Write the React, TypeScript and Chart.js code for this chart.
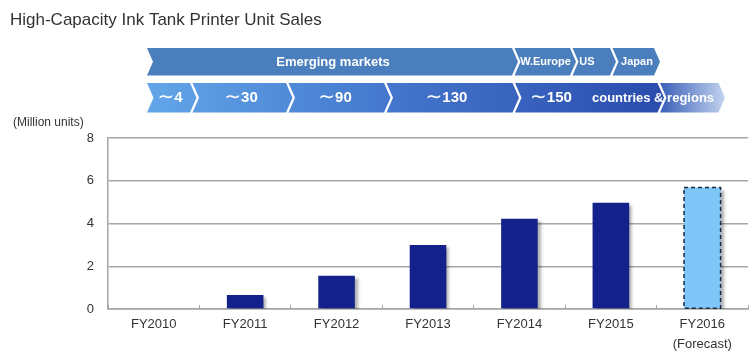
import React, { useEffect, useRef } from "react";
import { Chart, registerables } from "chart.js";

Chart.register(...registerables);

// ---- data ----
const titleText = "High-Capacity Ink Tank Printer Unit Sales";
const unitLabel = "(Million units)";
const categories = ["FY2010", "FY2011", "FY2012", "FY2013", "FY2014", "FY2015", "FY2016"];
const forecastNote = "(Forecast)";
const unitSales = [0, 0.65, 1.55, 3.0, 4.22, 4.97, 5.68];
const isForecast = [false, false, false, false, false, false, true];
const yTickValues = [0, 2, 4, 6, 8];
const marketStages = ["Emerging markets", "W.Europe", "US", "Japan"];
const countryCounts = ["∼4", "∼30", "∼90", "∼130", "∼150"];
const countrySuffix = "countries & regions";

// ---- layout / style (decorations) ----
const FONT = "'Liberation Sans', Arial, sans-serif";
const row1 = { top: 48, bottom: 75.5, start: 147, d: 6, gap: 2.5, tips: [518, 576, 616, 660] };
const row1Text = [
  { x: 333, size: 13 },
  { x: 545.5, size: 11 },
  { x: 587, size: 11 },
  { x: 637, size: 11 },
];
const row2 = { top: 83, bottom: 112.5, start: 147, d: 6.5, gap: 2.5, tips: [196.5, 292.5, 390.5, 519, 664, 725] };
const row2TextX = [170, 241, 335, 446.5, 551];
const suffixX = 592;

function chevron(ctx: CanvasRenderingContext2D, xl: number, xr: number, top: number, bot: number, d: number) {
  const mid = (top + bot) / 2;
  ctx.beginPath();
  ctx.moveTo(xl, top);
  ctx.lineTo(xr - d, top);
  ctx.lineTo(xr, mid);
  ctx.lineTo(xr - d, bot);
  ctx.lineTo(xl, bot);
  ctx.lineTo(xl + d, mid);
  ctx.closePath();
}

function segLeft(row: any, i: number) {
  return i === 0 ? row.start : row.tips[i - 1] - row.d + row.gap;
}

const headerPlugin = {
  id: "headerPlugin",
  afterDraw(chart: any) {
    const ctx: CanvasRenderingContext2D = chart.ctx;
    ctx.save();
    // unit label
    ctx.font = `12px ${FONT}`;
    ctx.fillStyle = "#333333";
    ctx.textBaseline = "middle";
    ctx.textAlign = "left";
    ctx.fillText(unitLabel, 13, 123);

    // row 1
    for (let i = 0; i < row1.tips.length; i++) {
      chevron(ctx, segLeft(row1, i), row1.tips[i], row1.top, row1.bottom, row1.d);
      ctx.fillStyle = "#4a7ebd";
      ctx.fill();
    }
    ctx.fillStyle = "#ffffff";
    ctx.textAlign = "center";
    const m1 = (row1.top + row1.bottom) / 2 + 0.5;
    marketStages.forEach((t, i) => {
      ctx.font = `bold ${row1Text[i].size}px ${FONT}`;
      ctx.fillText(t, row1Text[i].x, m1);
    });

    // row 2
    const g = ctx.createLinearGradient(row2.start, 0, row2.tips[4], 0);
    g.addColorStop(0, "#62a6e8");
    g.addColorStop(0.5, "#4274cb");
    g.addColorStop(1, "#2a4cad");
    for (let i = 0; i < row2.tips.length; i++) {
      const xl = segLeft(row2, i);
      chevron(ctx, xl, row2.tips[i], row2.top, row2.bottom, row2.d);
      if (i === row2.tips.length - 1) {
        const g2 = ctx.createLinearGradient(xl, 0, row2.tips[i], 0);
        g2.addColorStop(0, "#3a5fb8");
        g2.addColorStop(1, "#c2d3ef");
        ctx.fillStyle = g2;
      } else {
        ctx.fillStyle = g;
      }
      ctx.fill();
    }
    const m2 = (row2.top + row2.bottom) / 2 + 0.5;
    ctx.fillStyle = "#ffffff";
    ctx.textAlign = "left";
    const tildeFont = "20px 'DejaVu Sans', sans-serif";
    const numFont = `bold 15px ${FONT}`;
    countryCounts.forEach((t, i) => {
      const tilde = t.charAt(0);
      const num = t.slice(1);
      ctx.font = tildeFont;
      const w1 = ctx.measureText(tilde).width;
      ctx.font = numFont;
      const w2 = ctx.measureText(num).width;
      const x0 = row2TextX[i] - (w1 + w2) / 2;
      ctx.font = tildeFont;
      ctx.fillText(tilde, x0, m2);
      ctx.font = numFont;
      ctx.fillText(num, x0 + w1, m2);
    });
    ctx.font = `bold 13px ${FONT}`;
    ctx.fillText(countrySuffix, suffixX, m2);
    ctx.restore();
  },
};

const barDecorPlugin = {
  id: "barDecor",
  beforeDatasetsDraw(chart: any) {
    const ctx = chart.ctx;
    ctx.save();
    ctx.shadowColor = "rgba(0,0,0,0.35)";
    ctx.shadowBlur = 3;
    ctx.shadowOffsetX = 3;
    ctx.shadowOffsetY = 2;
  },
  afterDatasetsDraw(chart: any) {
    const ctx = chart.ctx;
    ctx.restore();
    const meta = chart.getDatasetMeta(0);
    ctx.save();
    meta.data.forEach((el: any, i: number) => {
      if (!isForecast[i]) return;
      const p = el.getProps(["x", "y", "base", "width"], true);
      ctx.setLineDash([4, 3]);
      ctx.strokeStyle = "#1c2b45";
      ctx.lineWidth = 1.5;
      ctx.strokeRect(p.x - p.width / 2, p.y, p.width, p.base - p.y);
    });
    ctx.restore();
  },
};

export default function App() {
  const ref = useRef<HTMLCanvasElement | null>(null);
  useEffect(() => {
    if (!ref.current) return;
    const labels = categories.map((c, i) => (isForecast[i] ? [c, forecastNote] : c));
    const chart = new Chart(ref.current, {
      type: "bar",
      data: {
        labels,
        datasets: [
          {
            data: unitSales,
            backgroundColor: isForecast.map((f) => (f ? "#7fc6f9" : "#13228a")),
            borderWidth: 0,
            categoryPercentage: 1,
            barPercentage: 0.4,
          },
        ],
      },
      options: {
        responsive: false,
        animation: false,
        events: [],
        layout: { padding: { left: 10, right: 6, top: 0, bottom: 0 } },
        plugins: {
          legend: { display: false },
          tooltip: { enabled: false },
          title: {
            display: true,
            text: titleText,
            align: "start",
            color: "#333333",
            font: { family: FONT, size: 17, weight: "normal", lineHeight: 1.2 },
            padding: { top: 10, bottom: 107.6 },
          },
        },
        scales: {
          x: {
            grid: {
              display: true,
              drawOnChartArea: false,
              drawTicks: true,
              tickLength: -4,
              color: "#a6a6a6",
              lineWidth: 1,
            },
            border: { display: true, color: "#a6a6a6", width: 1.5 },
            ticks: {
              color: "#333333",
              font: { family: FONT, size: 13, lineHeight: 20 / 13 },
              padding: 9,
              maxRotation: 0,
            },
            afterFit: (s: any) => {
              s.height = 46;
            },
          },
          y: {
            min: 0,
            max: 8,
            afterBuildTicks: (s: any) => {
              s.ticks = yTickValues.map((v) => ({ value: v }));
            },
            grid: { color: "#a6a6a6", lineWidth: 1.5, drawTicks: false },
            border: { display: true, color: "#a6a6a6", width: 1.5 },
            ticks: {
              color: "#333333",
              font: { family: FONT, size: 13 },
              padding: 14,
            },
            afterFit: (s: any) => {
              s.width = 98;
            },
          },
        },
      },
      plugins: [barDecorPlugin, headerPlugin],
    });
    return () => chart.destroy();
  }, []);
  return (
    <div style={{ position: "fixed", left: 0, top: 0, width: 754, height: 355, background: "#ffffff" }}>
      <canvas ref={ref} width={754} height={355} />
    </div>
  );
}
